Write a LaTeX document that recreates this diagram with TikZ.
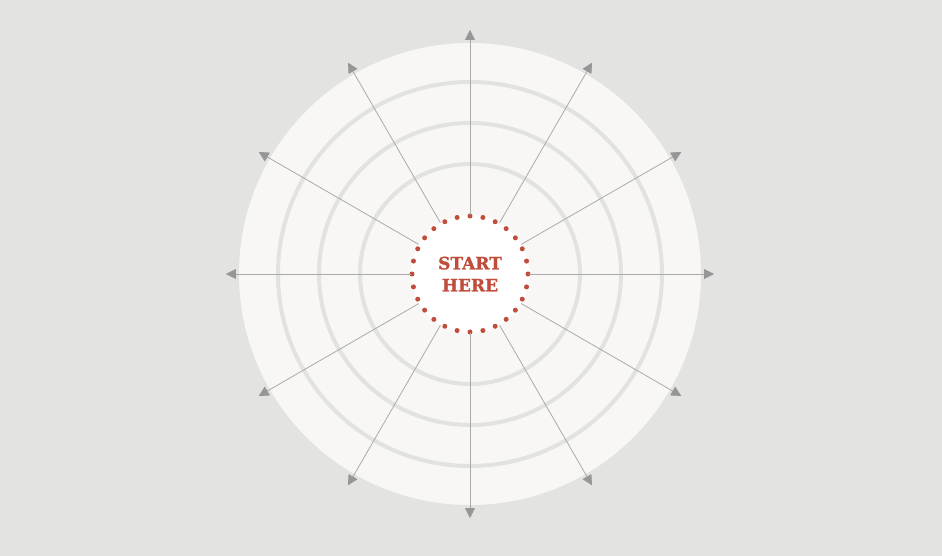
\documentclass[tikz,border=0pt]{standalone}
\usepackage{fontspec}
\usepackage{tikz}
\usetikzlibrary{arrows.meta}
\newfontfamily\slabfont[UprightFont={* Bold}, FakeBold=1.2]{DejaVu Serif}
\definecolor{bggray}{RGB}{227, 227, 226}
\definecolor{discwhite}{RGB}{248, 247, 246}
\definecolor{ringgray}{RGB}{226, 226, 225}
\definecolor{spokegray}{RGB}{170, 170, 170}
\definecolor{tipgray}{RGB}{150, 150, 150}
\definecolor{startred}{RGB}{192, 76, 58}

\begin{document}
\begin{tikzpicture}[x=1pt, y=1pt,
    ring/.style={draw=ringgray, line width=4pt},
    spoke/.style={draw=spokegray, line width=0.8pt, -{Triangle[length=10pt, width=10pt, color=tipgray]}},
    startbox/.style={circle, minimum size=118pt, inner sep=0pt, fill=white,
        text=startred, font=\slabfont\fontsize{17}{22}\selectfont, align=center}]
        % Background
        \fill[bggray] (-470,-282) rectangle (472,274);
        \useasboundingbox (-470,-282) rectangle (472,274);

        % Disc and rings
        \fill[discwhite] (0,0) circle (231);
        \foreach \r in {110, 151, 192}
            \draw[ring] (0,0) circle (\r);

        % Centre
        \node[startbox] (start) at (0,0) {START\\HERE};

        % Dotted border, 28 dots
        \foreach \i in {0, ..., 27}
            \fill[startred] (start.center) ++(90+\i*360/28:58) circle (2.5);

        % Spokes with arrows
        \foreach \a in {0, 30, ..., 330} {
            \coordinate (tip\a) at (\a:244);
            \draw[spoke] (start.\a) -- (tip\a);
        }
    \end{tikzpicture}
\end{document}
